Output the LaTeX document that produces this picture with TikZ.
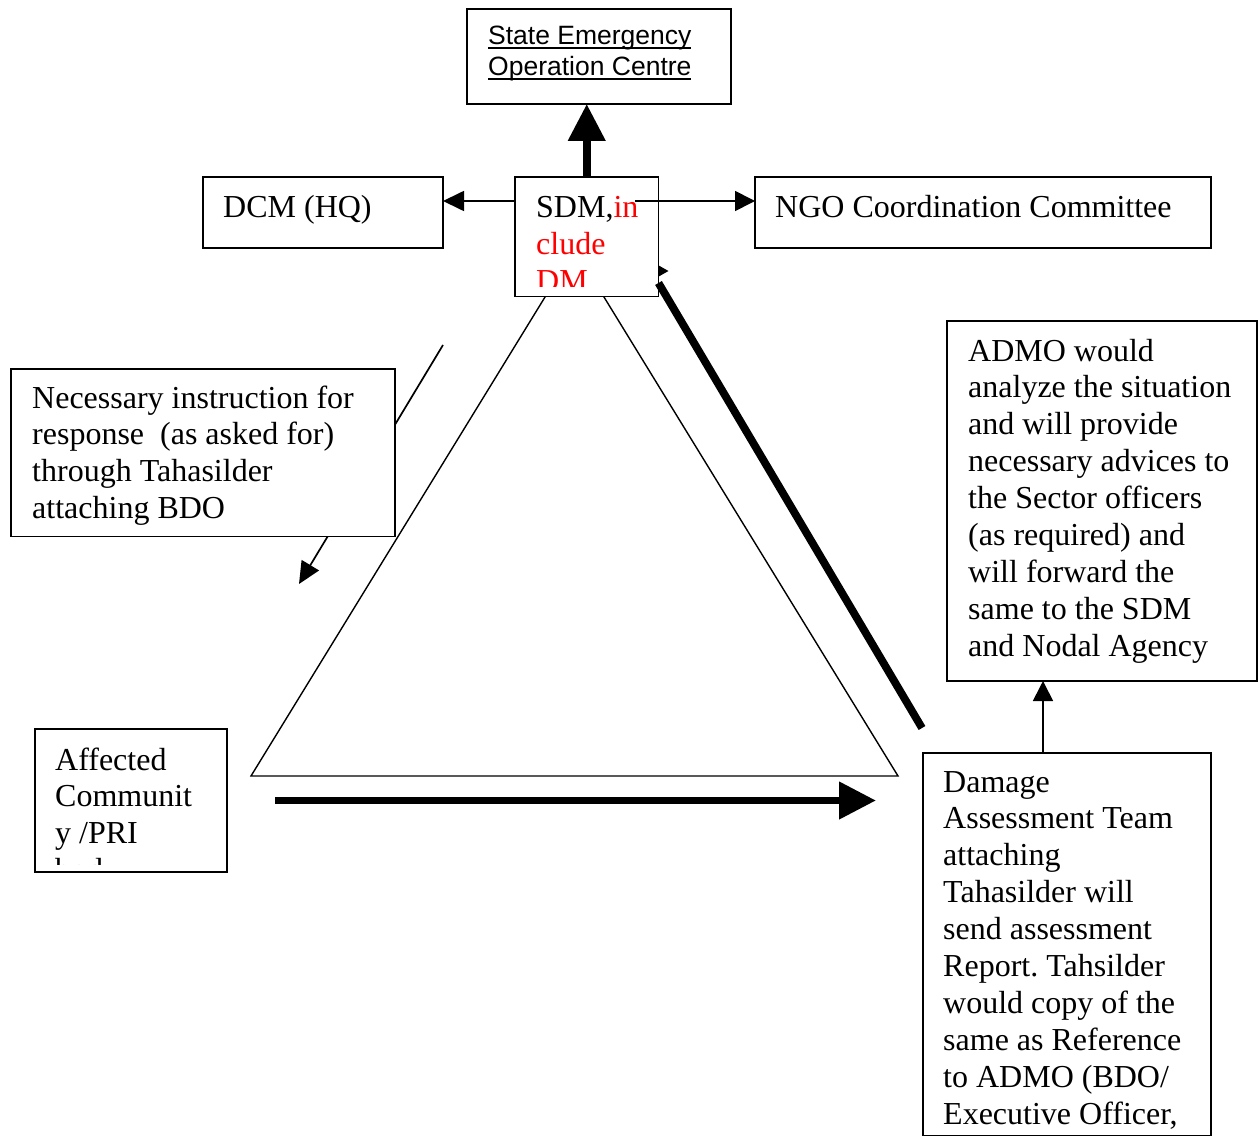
\documentclass[tikz,border=0pt]{standalone}
\usepackage{fontspec}
\setmainfont{Liberation Serif}
\newfontfamily\arialf{Liberation Sans}
\usetikzlibrary{arrows.meta}
\frenchspacing
\newcommand\Ln[1]{\hbox{#1}}
\newcommand\myul[1]{\setbox0\hbox{#1}\rlap{\rule[-3.8pt]{\wd0}{1.8pt}}\box0}
\begin{document}
\begin{tikzpicture}[x=1pt,y=-1pt,
  box/.style={draw, line width=1.9pt, fill=white, inner sep=0pt, outer sep=0pt, anchor=north west},
  txt/.style={anchor=base west, inner sep=0pt, font=\fontsize{32}{36.9}\selectfont\frenchspacing},
  thinln/.style={line width=1.7pt},
  trin/.style={line width=1.4pt},
  sm/.style={-{Triangle[length=20pt,width=20pt]}},
  thick arrow/.style={line width=7.6pt, -{Triangle[length=37pt,width=36pt]}}
]
\useasboundingbox (0,0) rectangle (1259,1137);

% triangle (apex hidden behind the SDM box)
\draw[trin, line join=miter] (251,776) -- (574.5,249) -- (898,776) -- cycle;

% coordinates for free ends
\coordinate (yl) at (0,201);
\coordinate (ni1) at (443,345);
\coordinate (ni2) at (299,584);
\coordinate (tipin) at (640,271);
\coordinate (tipout) at (668.5,271);
\coordinate (thk1) at (922,728);
\coordinate (thk2) at (658.5,283);
\coordinate (h1) at (275,800.5);
\coordinate (h2) at (876,800.5);
\coordinate (ngos) at (635,201);
\coordinate (ax) at (1043,0);

% arrows that are partly hidden behind boxes
\draw[thinln, -{Triangle[length=11pt,width=12pt]}] (tipin) -- (tipout);
\draw[thinln, -{Triangle[length=22pt,width=20pt]}] (ni1) -- (ni2);

% boxes
\node[box, minimum width=264pt, minimum height=95pt] (seoc) at (467,9) {};
\node[box, minimum width=240pt, minimum height=71pt] (dcm) at (203,177) {};
\node[box, minimum width=143.5pt, minimum height=119.5pt] (sdm) at (515,177) {};
\node[box, minimum width=456pt, minimum height=71pt] (ngo) at (755,177) {};
\node[box, minimum width=384pt, minimum height=167.5pt] (nec) at (11,369) {};
\node[box, minimum width=310pt, minimum height=360pt] (admo) at (947,321) {};
\node[box, minimum width=192pt, minimum height=143pt] (aff) at (35,729) {};
\node[box, minimum width=288pt, minimum height=382.5pt] (dmg) at (923,753) {};

% texts
\node[anchor=base west, inner sep=0pt, font=\arialf\fontsize{26.5}{31}\selectfont] (seoct) at (488,45)
  {\vtop{\Ln{\myul{State Emergency}}\Ln{\myul{Operation Centre}}}};
\node[txt] (dcmt) at (223,218) {DCM (HQ)};
\begin{scope}
  \clip (515,177) rectangle (658.5,286.5);
  \node[txt] (sdmt) at (536,218)
    {\vtop{\Ln{SDM,\textcolor{red}{in}}\Ln{\color{red}clude}\Ln{\color{red}DM}}};
\end{scope}
\node[txt] (ngot) at (775,218) {NGO Coordination Committee};
\node[txt] (nect) at (32,408)
  {\vtop{\Ln{Necessary instruction for}\Ln{response\ \ (as asked for)}\Ln{through Tahasilder}\Ln{attaching BDO}}};
\node[txt] (admot) at (968,361)
  {\vtop{\Ln{ADMO would}\Ln{analyze the situation}\Ln{and will provide}\Ln{necessary advices to}\Ln{the Sector officers}\Ln{(as required) and}\Ln{will forward the}\Ln{same to the SDM}\Ln{and Nodal Agency}}};
\begin{scope}
  \clip (35,729) rectangle (227,864.5);
  \node[txt] (afft) at (55,770)
    {\vtop{\Ln{Affected}\Ln{Communit}\Ln{y /PRI}\Ln{body}}};
\end{scope}
\node[txt] (dmgt) at (943,792)
  {\vtop{\Ln{Damage}\Ln{Assessment Team}\Ln{attaching}\Ln{Tahasilder will}\Ln{send assessment}\Ln{Report. Tahsilder}\Ln{would copy of the}\Ln{same as Reference}\Ln{to ADMO (BDO/}\Ln{Executive Officer,}}};

% connectors
\draw[thick arrow] (sdm.north) -- (sdm.north |- seoc.south);
\draw[thinln, -{Triangle[length=21pt,width=20pt]}] (sdm.west |- yl) -- (dcm.east |- yl);
\draw[thinln, sm] (ngos) -- (ngo.west |- yl);
\draw[line width=7.8pt] (thk1) -- (thk2);
\draw[thick arrow] (h1) -- (h2);
\draw[thinln, sm] (ax |- dmg.north) -- (ax |- admo.south);
\end{tikzpicture}
\end{document}
